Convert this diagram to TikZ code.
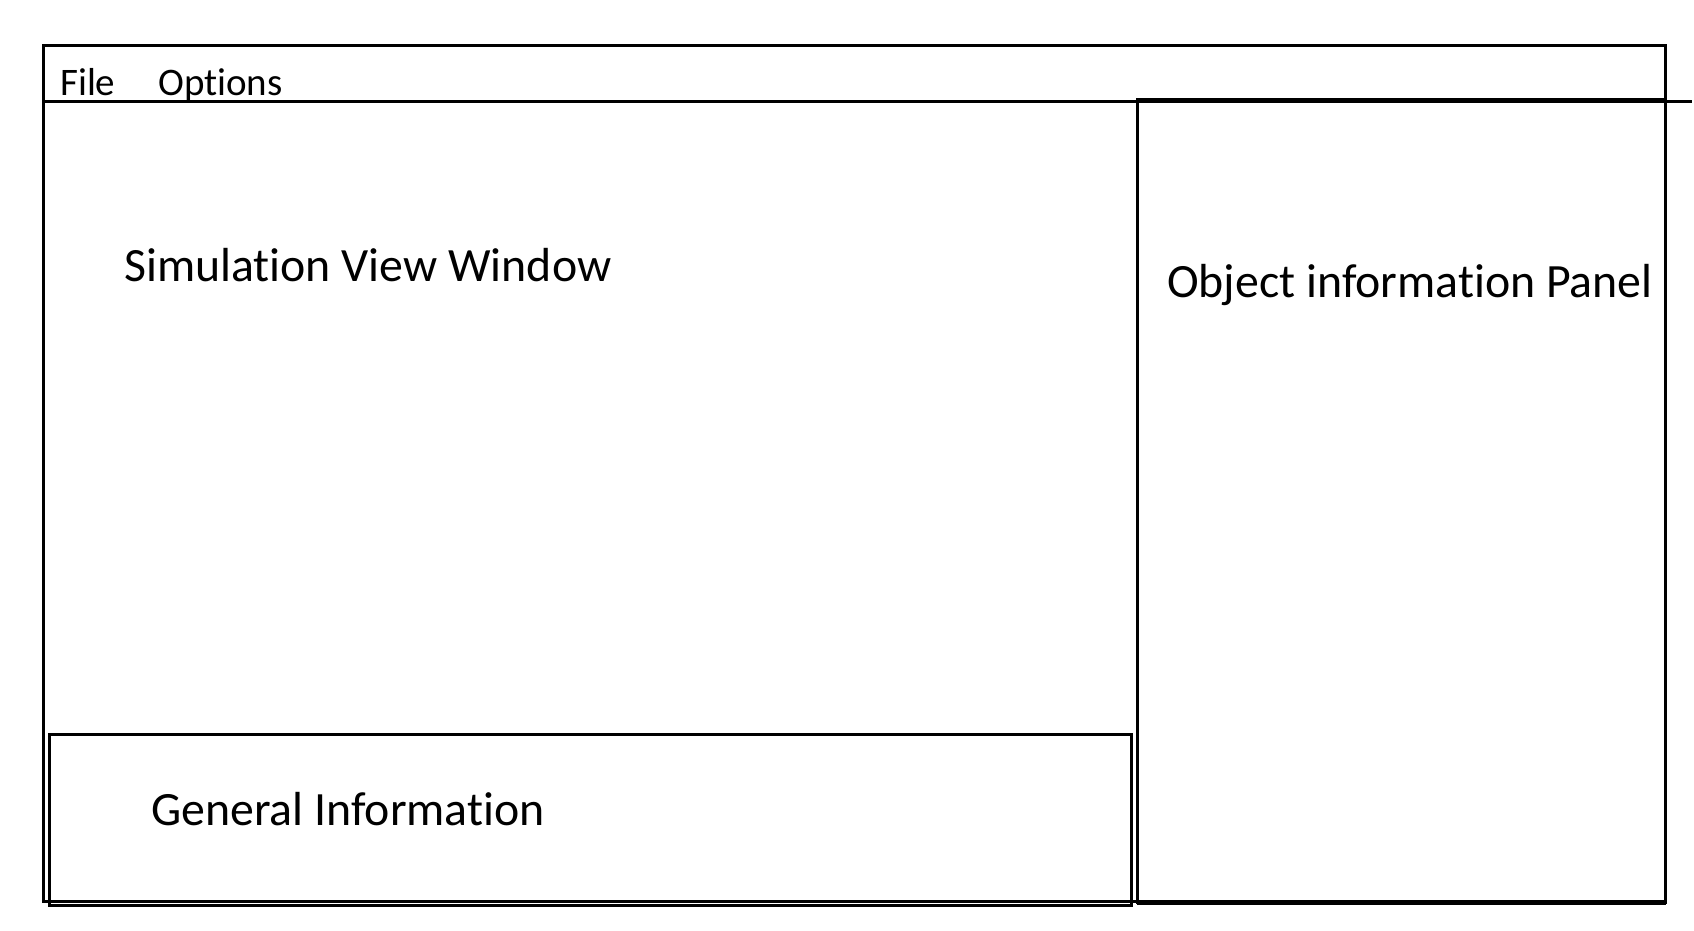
\documentclass[tikz,border=0pt]{standalone}
\usepackage{fontspec}
\setmainfont{Carlito}[RawFeature={-liga;-clig;-dlig}]
\begin{document}
\begin{tikzpicture}[x=1pt,y=-1pt,
  frame/.style={draw=black,line width=3pt},
  bigtext/.style={anchor=base west,inner sep=0pt,font=\fontsize{47.8}{56}\selectfont},
  menutext/.style={anchor=base west,inner sep=0pt,font=\fontsize{39}{46}\selectfont}]
\useasboundingbox (0,0) rectangle (1694,930);
% outer window
\draw[frame] (43,45) rectangle (1665,901);
% menu bar line
\draw[frame] (43,101.5) -- (1692,101.5);
% right panel
\draw[frame] (1137,99.5) rectangle (1665,902);
\draw[line width=5pt] (1137,902) -- (1666,902);
% general information box
\draw[frame] (49.5,734) rectangle (1131,905);
% texts
\node[menutext] (file) at (60,95) {File};
\node[menutext] (options) at (158,95) {Options};
\node[bigtext] (sim) at (124,281) {Simulation View Window};
\node[bigtext] (obj) at (1167,297) {Object information Panel};
\node[bigtext] (gen) at (151,825) {General Information};
\end{tikzpicture}
\end{document}
